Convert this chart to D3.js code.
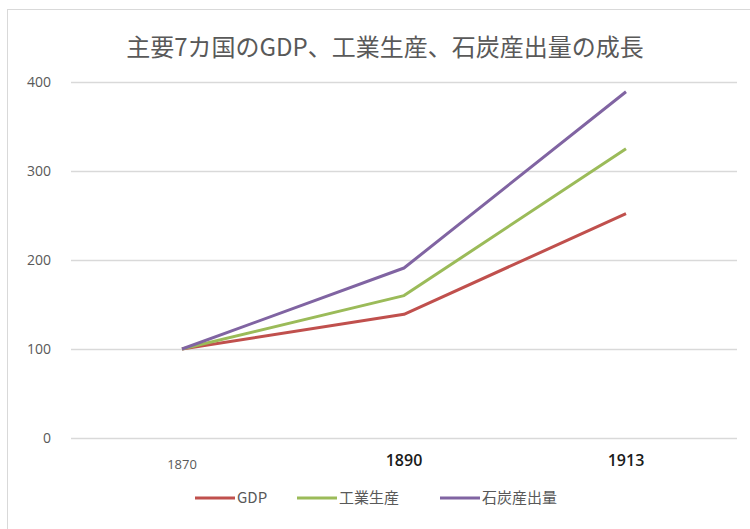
<!DOCTYPE html>
<html>
<head>
<meta charset="utf-8">
<script src="https://cdn.jsdelivr.net/npm/d3@7"></script>
<style>
  body { margin: 0; background: #fff; }
  text { font-family: "Noto Sans CJK JP", "Noto Sans", sans-serif; }
</style>
</head>
<body>
<svg id="chart" width="750" height="529"></svg>
<script>
const years = ["1870", "1890", "1913"];
const gdp = [100, 139, 252];
const industry = [100, 160, 325];
const coal = [100, 191, 389];
const seriesNames = ["GDP", "工業生産", "石炭産出量"];
const seriesColors = ["#c0504d", "#9bbb59", "#8064a2"];
const yTicks = [0, 100, 200, 300, 400];

const svg = d3.select("#chart");
const plot = { left: 71, right: 737, top: 82, bottom: 438 };

// outer chart border
svg.append("rect")
  .attr("x", 7.5).attr("y", 9.5)
  .attr("width", 745).attr("height", 540)
  .attr("fill", "none")
  .attr("stroke", "#d9d9d9");

svg.append("text")
  .text("主要7カ国のGDP、工業生産、石炭産出量の成長")
  .attr("x", 385).attr("y", 56)
  .attr("text-anchor", "middle")
  .attr("font-size", 24)
  .attr("fill", "#595959");

const xScale = d3.scaleBand().domain(years).range([plot.left, plot.right]);
const yScale = d3.scaleLinear().domain([0, 400]).range([plot.bottom, plot.top]);

// gridlines
svg.append("g")
  .attr("transform", `translate(${plot.left},0)`)
  .call(d3.axisLeft(yScale).tickValues(yTicks).tickSize(-(plot.right - plot.left)).tickFormat(""))
  .call(g => g.select(".domain").remove())
  .call(g => g.selectAll("line").attr("stroke", "#d9d9d9").attr("stroke-width", 1.5));

// y labels
svg.append("g")
  .attr("transform", `translate(${plot.left},0)`)
  .call(d3.axisLeft(yScale).tickValues(yTicks).tickSize(0).tickPadding(20))
  .call(g => g.select(".domain").remove())
  .call(g => g.selectAll("text")
    .attr("font-size", 14)
    .attr("fill", "#595959")
    .style("font-family", "'Open Sans', 'Noto Sans', sans-serif"));

// x labels (1870 small, later years larger and dark)
svg.append("g")
  .attr("transform", `translate(0,${plot.bottom})`)
  .call(d3.axisBottom(xScale).tickSize(0).tickPadding(22))
  .call(g => g.select(".domain").remove())
  .call(g => g.selectAll("text")
    .style("font-family", "'Open Sans', 'Noto Sans', sans-serif")
    .attr("font-size", (d, i) => i === 0 ? 13 : 16)
    .attr("dy", (d, i) => i === 0 ? "0.71em" : "0.4em")
    .attr("font-weight", (d, i) => i === 0 ? 400 : 600)
    .attr("fill", (d, i) => i === 0 ? "#595959" : "#1a1a1a"));

const line = d3.line()
  .x((d, i) => xScale(years[i]) + xScale.bandwidth() / 2)
  .y(d => yScale(d));

[gdp, industry, coal].forEach((vals, i) => {
  svg.append("path")
    .datum(vals)
    .attr("d", line)
    .attr("fill", "none")
    .attr("stroke", seriesColors[i])
    .attr("stroke-width", 3)
    .attr("stroke-linejoin", "round");
});

// legend
const legendX = [195, 297, 440];
const legend = svg.append("g");
seriesNames.forEach((name, i) => {
  legend.append("line")
    .attr("x1", legendX[i]).attr("x2", legendX[i] + 40)
    .attr("y1", 498).attr("y2", 498)
    .attr("stroke", seriesColors[i])
    .attr("stroke-width", 3);
  legend.append("text")
    .text(name)
    .attr("x", legendX[i] + 42).attr("y", 503)
    .attr("font-size", 15)
    .attr("fill", "#595959");
});
</script>
</body>
</html>
